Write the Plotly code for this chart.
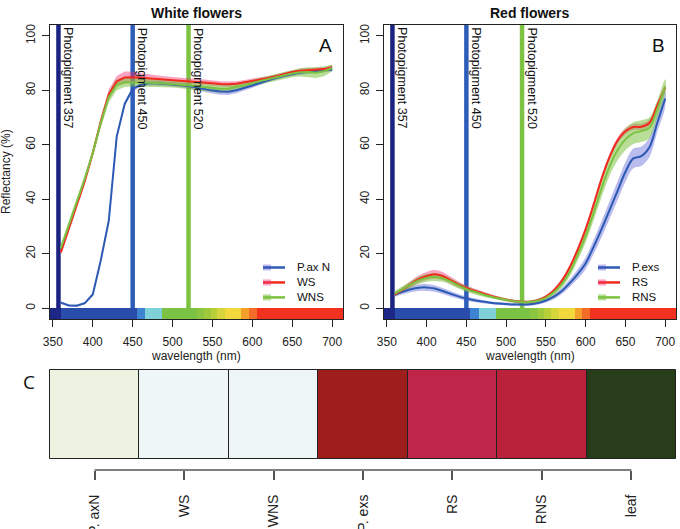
import plotly.graph_objects as go

W, H = 680, 529

# ---------------- data ----------------
wavelength = list(range(360, 701, 10))

# Panel A: white flowers
pax_n = [2.0, 1.0, 0.9, 1.8, 5.0, 17.5, 32.0, 63.0, 75.0, 80.5, 82.0, 82.6, 82.6, 82.4, 82.2, 82.0,
         81.6, 81.0, 80.4, 79.9, 79.6, 79.5, 80.0, 80.8, 81.8, 82.8, 83.8, 84.6, 85.3, 86.0, 86.5,
         86.8, 87.0, 87.3, 87.6]
pax_n_sd = [0.5, 0.4, 0.4, 0.4, 0.5, 0.6, 0.6, 0.7, 0.8, 0.8, 0.8, 0.8, 0.8, 0.8, 0.8, 0.9,
            0.9, 1.0, 1.0, 1.1, 1.2, 1.2, 1.1, 1.0, 0.9, 0.8, 0.7, 0.7, 0.6, 0.6, 0.6,
            0.6, 0.6, 0.6, 0.6]
ws = [20.5, 29.2, 37.9, 46.6, 57.0, 68.5, 78.5, 83.3, 84.7, 84.8, 84.6, 84.4, 84.2, 84.0, 83.8,
      83.6, 83.4, 83.2, 83.0, 82.6, 82.3, 82.2, 82.4, 82.9, 83.5, 84.0, 84.5, 85.2, 86.0, 86.7,
      87.2, 87.4, 87.5, 87.8, 88.5]
ws_sd = [1.0, 1.0, 1.0, 1.0, 1.2, 1.5, 1.8, 2.0, 2.2, 2.0, 1.8, 1.5, 1.3, 1.2, 1.1,
         1.0, 1.0, 1.0, 1.0, 1.0, 1.0, 1.0, 0.9, 0.9, 0.9, 0.8, 0.8, 0.8, 0.8, 0.8,
         0.8, 0.8, 0.8, 0.8, 0.8]
wns = [22.0, 30.5, 39.0, 47.5, 57.0, 68.0, 77.5, 82.0, 83.0, 83.0, 82.9, 82.8, 82.7, 82.5, 82.4,
       82.2, 82.0, 81.6, 81.2, 80.8, 80.6, 80.7, 81.2, 81.9, 82.7, 83.4, 84.1, 84.8, 85.5, 86.2,
       86.6, 86.7, 86.5, 87.0, 88.2]
wns_sd = [1.5, 1.5, 1.5, 1.5, 1.6, 1.8, 2.0, 2.0, 1.8, 1.6, 1.5, 1.5, 1.4, 1.4, 1.4,
          1.4, 1.4, 1.4, 1.4, 1.4, 1.4, 1.4, 1.4, 1.3, 1.2, 1.2, 1.2, 1.3, 1.3, 1.4,
          1.5, 1.8, 2.0, 1.8, 1.2]

# Panel B: red flowers
p_exs = [5.0, 6.0, 6.9, 7.5, 7.6, 7.2, 6.3, 5.3, 4.3, 3.5, 2.9, 2.4, 2.0, 1.7, 1.5, 1.35,
         1.3, 1.4, 1.9, 2.8, 4.2, 6.3, 9.2, 12.5, 16.5, 22.5, 29.0, 36.0, 43.0, 50.0, 55.0,
         55.8, 59.0, 68.0, 77.0]
p_exs_sd = [0.7, 0.9, 1.1, 1.2, 1.3, 1.2, 1.1, 1.0, 0.9, 0.8, 0.7, 0.6, 0.5, 0.5, 0.5, 0.5,
            0.5, 0.5, 0.6, 0.7, 0.9, 1.1, 1.4, 1.8, 2.2, 2.6, 3.0, 3.3, 3.5, 3.6, 3.6,
            3.6, 3.6, 3.4, 3.0]
rs = [5.0, 6.8, 8.8, 10.6, 11.8, 12.4, 11.8, 10.3, 8.7, 7.4, 6.4, 5.5, 4.6, 3.8, 3.1, 2.6,
      2.3, 2.3, 2.9, 4.2, 6.5, 10.0, 15.0, 21.5, 29.0, 38.0, 47.5, 55.5, 61.5, 65.0, 66.5,
      66.6, 68.0, 74.5, 81.0]
rs_sd = [0.8, 1.0, 1.2, 1.4, 1.5, 1.6, 1.5, 1.3, 1.1, 0.9, 0.8, 0.7, 0.6, 0.6, 0.5, 0.5,
         0.5, 0.5, 0.5, 0.6, 0.7, 0.8, 0.9, 1.0, 1.1, 1.2, 1.2, 1.2, 1.2, 1.2, 1.2,
         1.2, 1.2, 1.1, 1.0]
rns = [5.3, 7.0, 8.7, 10.2, 11.1, 11.4, 11.0, 9.8, 8.3, 7.0, 6.0, 5.1, 4.3, 3.6, 3.0, 2.5,
       2.2, 2.2, 2.7, 3.8, 5.8, 8.8, 13.3, 19.5, 26.5, 35.0, 44.0, 52.0, 58.0, 62.0, 64.3,
       65.0, 66.2, 73.0, 81.5]
rns_sd = [1.0, 1.1, 1.2, 1.3, 1.4, 1.4, 1.3, 1.2, 1.1, 1.0, 0.9, 0.8, 0.7, 0.6, 0.6, 0.6,
          0.6, 0.6, 0.7, 0.8, 1.0, 1.3, 1.6, 2.0, 2.4, 2.8, 3.2, 3.5, 3.8, 4.0, 4.0,
          4.0, 3.8, 3.2, 2.6]

photopigments = [357, 450, 520]
photopigment_labels = ["Photopigment 357", "Photopigment 450", "Photopigment 520"]

# spectrum strip along the bottom of panels A and B
spectrum_start = [345, 360, 455, 466, 487, 530, 540, 548, 556, 566, 586, 596, 606]
spectrum_end = [360, 455, 466, 487, 530, 540, 548, 556, 566, 586, 596, 606, 715]
spectrum_colors = ["#1c2788", "#2a4dab", "#3d84d3", "#7fd1d9", "#7bc143", "#8cc53f", "#a0c93c",
                   "#b8cf3a", "#d6d63c", "#f1d83d", "#f6a02c", "#f36d29", "#f2311e"]

# Panel C: colour patches
sample_names = ["P. axN", "WS", "WNS", "P. exs", "RS", "RNS", "leaf"]
sample_colors = ["#ecf3e0", "#eef6f7", "#eef5f6", "#9d1e1a", "#bf2549", "#ba223b", "#283e1b"]
sample_height = [1, 1, 1, 1, 1, 1, 1]

# ---------------- styles ----------------
BLUE, RED, GREEN = "#2c5ab4", "#f22a1e", "#7cc242"
BLUE_F, RED_F, GREEN_F = "rgba(70,80,205,0.38)", "rgba(240,50,120,0.45)", "rgba(125,194,66,0.55)"
PIG_COLORS = ["#1b2382", "#2d5db9", "#7dc242"]
FONT = "Liberation Sans, Arial, sans-serif"


def px_x(p):
    return p / W


def px_y(p):
    return 1 - p / H


fig = go.Figure()

panels = [
    dict(xa="x", ya="y", series=[("P.ax N", pax_n, pax_n_sd, BLUE, BLUE_F),
                                 ("WS", ws, ws_sd, RED, RED_F),
                                 ("WNS", wns, wns_sd, GREEN, GREEN_F)], shape="linear"),
    dict(xa="x2", ya="y2", series=[("P.exs", p_exs, p_exs_sd, BLUE, BLUE_F),
                                   ("RS", rs, rs_sd, RED, RED_F),
                                   ("RNS", rns, rns_sd, GREEN, GREEN_F)], shape="spline"),
]

for p in panels:
    # spectrum strip
    fig.add_trace(go.Bar(
        x=[(a + b) / 2 for a, b in zip(spectrum_start, spectrum_end)],
        y=[4] * len(spectrum_start), base=[-4] * len(spectrum_start),
        width=[b - a for a, b in zip(spectrum_start, spectrum_end)],
        marker=dict(color=spectrum_colors, line=dict(width=0)),
        xaxis=p["xa"], yaxis=p["ya"], showlegend=False, hoverinfo="skip"))
    # ribbons
    for name, vals, sd, lc, fc in p["series"]:
        upper = [v + s for v, s in zip(vals, sd)]
        lower = [v - s for v, s in zip(vals, sd)]
        fig.add_trace(go.Scatter(
            x=wavelength + wavelength[::-1], y=upper + lower[::-1],
            fill="toself", fillcolor=fc, mode="lines", line=dict(width=0, shape=p["shape"]),
            xaxis=p["xa"], yaxis=p["ya"], showlegend=False, hoverinfo="skip"))
    # mean lines
    for name, vals, sd, lc, fc in p["series"]:
        fig.add_trace(go.Scatter(
            x=wavelength, y=vals, mode="lines", name=name,
            line=dict(color=lc, width=2, shape=p["shape"]),
            xaxis=p["xa"], yaxis=p["ya"], showlegend=False))

# Panel C patches
fig.add_trace(go.Bar(
    x=list(range(len(sample_names))), y=sample_height, base=0, width=1,
    marker=dict(color=sample_colors, line=dict(color="#222222", width=1)),
    xaxis="x3", yaxis="y3", showlegend=False, hoverinfo="skip"))

axis_common = dict(showgrid=False, zeroline=False, showline=True, mirror=True, automargin=False,
                   linecolor="#222222", linewidth=1, ticks="outside", ticklen=7,
                   tickcolor="#222222", tickfont=dict(family=FONT, size=12, color="#222222"))

x_ticks = [350, 400, 450, 500, 550, 600, 650, 700]
y_ticks = [0, 20, 40, 60, 80, 100]

fig.update_layout(
    template="none",
    width=W, height=H, margin=dict(l=0, r=0, t=0, b=0, autoexpand=False),
    paper_bgcolor="white", plot_bgcolor="white", bargap=0,
    xaxis=dict(domain=[px_x(50), px_x(343)], range=[346.4, 713.6], anchor="y",
               tickvals=x_ticks, ticklabelstandoff=5, **axis_common),
    yaxis=dict(domain=[px_y(319), px_y(25)], range=[-4, 104], anchor="x",
               tickvals=y_ticks, tickangle=-90, ticklabelstandoff=2, **axis_common),
    xaxis2=dict(domain=[px_x(384), px_x(676)], range=[346.4, 713.6], anchor="y2",
                tickvals=x_ticks, ticklabelstandoff=5, **axis_common),
    yaxis2=dict(domain=[px_y(319), px_y(25)], range=[-4, 104], anchor="x2",
                tickvals=y_ticks, tickangle=-90, ticklabelstandoff=2, **axis_common),
    xaxis3=dict(domain=[px_x(49), px_x(677)], range=[-0.51, 6.51], anchor="y3",
                showgrid=False, zeroline=False, showline=False, automargin=False,
                tickvals=list(range(len(sample_names))), ticktext=sample_names,
                ticks="outside", ticklen=9, tickcolor="#555555", tickwidth=1.5,
                tickangle=-90, ticklabelstandoff=9,
                tickfont=dict(family=FONT, size=14, color="#222222")),
    yaxis3=dict(domain=[px_y(470), px_y(369)], range=[-0.124, 1.01], anchor="x3",
                showgrid=False, zeroline=False, showline=False, showticklabels=False,
                ticks="", automargin=False),
)

shapes = []
annotations = []
for xa, ya in [("x", "y"), ("x2", "y2")]:
    for wl, lab, col in zip(photopigments, photopigment_labels, PIG_COLORS):
        shapes.append(dict(type="line", xref=xa, yref=ya + " domain", x0=wl, x1=wl, y0=0, y1=1,
                           line=dict(color=col, width=4.5), layer="below"))
        annotations.append(dict(text=lab, xref=xa, yref=ya, x=wl, y=103.8, xanchor="left",
                                yanchor="top", xshift=1, textangle=90, showarrow=False,
                                font=dict(family=FONT, size=12.5, color="#111111")))

# axis line under the colour patches (spans first to last tick)
shapes.append(dict(type="line", xref="x3", yref="paper", x0=0, x1=6, y0=px_y(470), y1=px_y(470),
                   line=dict(color="#555555", width=1.5)))

# legends (one text block per panel, lines 1.3em apart)
LEG_FONT = 11.5
legend_rows = [267.5, 267.5 + 1.3 * LEG_FONT, 267.5 + 2.6 * LEG_FONT]
for (names, cols, fills, lx0, tx) in [
    (["P.ax N", "WS", "WNS"], [BLUE, RED, GREEN], [BLUE_F, RED_F, GREEN_F], 263, 295),
    (["P.exs", "RS", "RNS"], [BLUE, RED, GREEN], [BLUE_F, RED_F, GREEN_F], 598, 630),
]:
    for nm, c, f, ry in zip(names, cols, fills, legend_rows):
        shapes.append(dict(type="line", xref="paper", yref="paper", x0=px_x(lx0), x1=px_x(lx0 + 22),
                           y0=px_y(ry), y1=px_y(ry), line=dict(color=c, width=2.5)))
        shapes.append(dict(type="rect", xref="paper", yref="paper", x0=px_x(lx0), x1=px_x(lx0 + 8),
                           y0=px_y(ry + 3), y1=px_y(ry - 3), line=dict(width=0),
                           fillcolor=f))
    annotations.append(dict(text="<br>".join(names), xref="paper", yref="paper", x=px_x(tx),
                            y=px_y(legend_rows[1]), xanchor="left", yanchor="middle", align="left",
                            showarrow=False, font=dict(family=FONT, size=LEG_FONT, color="#111111")))

# titles and labels
for txt, cx in [("White flowers", 196.5), ("Red flowers", 530)]:
    annotations.append(dict(text="<b>" + txt + "</b>", xref="paper", yref="paper",
                            x=px_x(cx), y=px_y(13), xanchor="center", yanchor="middle",
                            showarrow=False, font=dict(family=FONT, size=14, color="#111111")))
    annotations.append(dict(text="wavelength (nm)", xref="paper", yref="paper",
                            x=px_x(cx), y=px_y(356), xanchor="center", yanchor="middle",
                            showarrow=False, font=dict(family=FONT, size=12, color="#222222")))
for txt, cx in [("A", 325), ("B", 658)]:
    annotations.append(dict(text=txt, xref="paper", yref="paper", x=px_x(cx), y=px_y(46),
                            xanchor="center", yanchor="middle", showarrow=False,
                            font=dict(family=FONT, size=19, color="#111111")))
annotations.append(dict(text="Reflectancy (%)", xref="paper", yref="paper", x=px_x(6), y=px_y(172),
                        xanchor="center", yanchor="middle", textangle=-90, showarrow=False,
                        font=dict(family=FONT, size=12, color="#222222")))
annotations.append(dict(text="C", xref="paper", yref="paper", x=px_x(29), y=px_y(382),
                        xanchor="center", yanchor="middle", showarrow=False,
                        font=dict(family="Open Sans, sans-serif", size=19, color="#111111")))

fig.update_layout(shapes=shapes, annotations=annotations)
fig.write_html("out.html")
